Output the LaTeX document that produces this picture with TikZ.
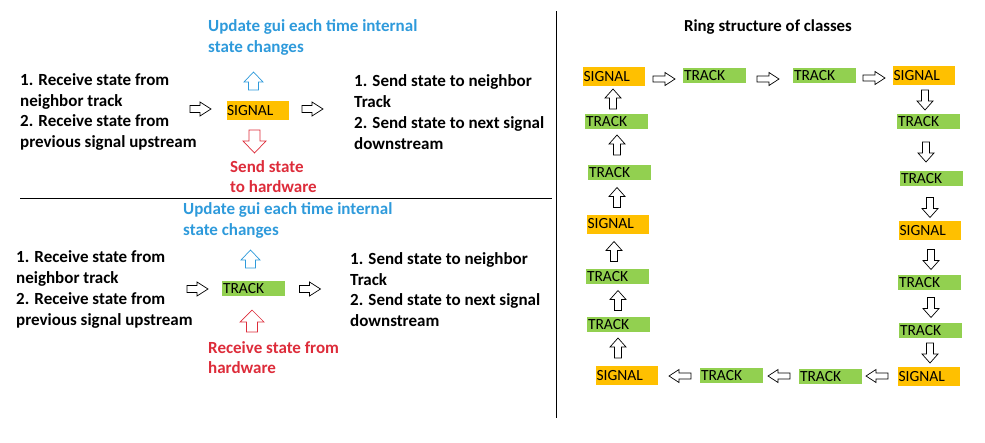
\documentclass[tikz,border=0pt]{standalone}
\usepackage{fontspec}
\setmainfont{Carlito}
\definecolor{sigorange}{HTML}{FFC000}
\definecolor{trkgreen}{HTML}{92D050}
\definecolor{guiblue}{HTML}{2E9ADB}
\definecolor{hwred}{HTML}{DD2C3A}
\tikzset{
  sigbox/.style={fill=sigorange, minimum width=62pt, minimum height=19pt, text width=61pt, inner xsep=0.5pt, inner ysep=0pt, align=left, font=\fontsize{15.5}{16}\selectfont},
  trkbox/.style={fill=trkgreen, minimum width=63pt, minimum height=15pt, text width=61pt, inner xsep=1pt, inner ysep=0pt, align=left, font=\fontsize{15.5}{16}\selectfont},
  btext/.style={anchor=west, align=left, inner sep=0pt, font=\bfseries\fontsize{17}{20.8}\selectfont},
  divider/.style={line width=0.8pt, draw=black},
  pics/barrow/.style n args={4}{code={
    \draw[line width=0.7pt, fill=white, line join=miter]
      (-#1/2,-#3/2) -- (#1/2-#4,-#3/2) -- (#1/2-#4,-#2/2) -- (#1/2,0)
      -- (#1/2-#4,#2/2) -- (#1/2-#4,#3/2) -- (-#1/2,#3/2) -- cycle;
  }},
}
\begin{document}
\begin{tikzpicture}[x=1pt,y=-1pt]
\useasboundingbox (0,0) rectangle (985,442);

% dividers
\coordinate (hl) at (20,198);
\coordinate (hr) at (552,198);
\coordinate (vt) at (556,11);
\coordinate (vb) at (556,418);
\draw[divider] (hl) -- (hr);
\draw[divider] (vt) -- (vb);

% ---------- top-left panel: SIGNAL ----------
\node[sigbox] (sig0) at (257.5,110.5) {SIGNAL};
\node[btext] (tlin) at (20,112) {1. Receive state from\\neighbor track\\2. Receive state from\\previous signal upstream};
\node[btext] (tlout) at (354,112) {1. Send state to neighbor\\Track\\2. Send state to next signal\\downstream};
\node[btext, text=guiblue] (tlgui) at (208,37.5) {Update gui each time internal\\state changes};
\node[btext, text=hwred] (tlhw) at (230,176.5) {Send state\\to hardware};
\pic (a1) at (200.5,109) {barrow={21}{14}{7}{11}};
\pic (a2) at (312.5,109) {barrow={21}{14}{7}{11}};
\pic[color=guiblue, rotate=90] (a3) at (253.5,81) {barrow={18}{19}{10}{10}};
\pic[color=hwred, rotate=-90] (a4) at (254.5,141.5) {barrow={23}{23}{11}{12}};

% ---------- bottom-left panel: TRACK ----------
\node[trkbox] (trk0) at (253.5,288.5) {TRACK};
\node[btext] (blin) at (16,289.5) {1. Receive state from\\neighbor track\\2. Receive state from\\previous signal upstream};
\node[btext] (blout) at (350,289.5) {1. Send state to neighbor\\Track\\2. Send state to next signal\\downstream};
\node[btext, text=guiblue] (blgui) at (183,220.5) {Update gui each time internal\\state changes};
\node[btext, text=hwred] (blhw) at (208,357.5) {Receive state from\\hardware};
\pic (b1) at (197.5,289) {barrow={21}{14}{7}{11}};
\pic (b2) at (310,289) {barrow={21}{14}{7}{11}};
\pic[color=guiblue, rotate=90] (b3) at (250.5,259) {barrow={18}{19}{10}{10}};
\pic[color=hwred, rotate=90] (b4) at (252,321) {barrow={22}{24}{11}{12}};

% ---------- right panel: ring ----------
\node[font=\bfseries\fontsize{16.8}{18}\selectfont, inner sep=0pt] (title) at (768,27) {Ring structure of classes};

% top row
\node[sigbox] (r1) at (614,76.5) {SIGNAL};
\node[trkbox] (r2) at (714.5,75.5) {TRACK};
\node[trkbox] (r3) at (824.5,75.5) {TRACK};
\node[sigbox] (r4) at (924,75.5) {SIGNAL};
% right column
\node[trkbox] (r5) at (928.5,121.5) {TRACK};
\node[trkbox] (r6) at (931.5,178.5) {TRACK};
\node[sigbox] (r7) at (930,230.5) {SIGNAL};
\node[trkbox] (r8) at (929.5,282.5) {TRACK};
\node[trkbox] (r9) at (930.5,330.5) {TRACK};
\node[sigbox] (r10) at (929,376.5) {SIGNAL};
% bottom row
\node[trkbox] (r11) at (830.5,376.5) {TRACK};
\node[trkbox] (r12) at (731.5,375.5) {TRACK};
\node[sigbox] (r13) at (627,375.5) {SIGNAL};
% left column
\node[trkbox] (r14) at (618.5,324.5) {TRACK};
\node[trkbox] (r15) at (617.5,276.5) {TRACK};
\node[sigbox] (r16) at (618,224) {SIGNAL};
\node[trkbox] (r17) at (619.5,172.5) {TRACK};
\node[trkbox] (r18) at (616.5,121.5) {TRACK};

% ring arrows
\pic (c1) at (664,79) {barrow={22}{13}{6}{10}};
\pic (c2) at (768,79) {barrow={22}{13}{6}{10}};
\pic (c3) at (874,78) {barrow={22}{13}{6}{10}};
\pic[rotate=-90] (c4) at (925,100) {barrow={20}{16}{7}{9}};
\pic[rotate=-90] (c5) at (926,152) {barrow={20}{16}{7}{9}};
\pic[rotate=-90] (c6) at (930,207.5) {barrow={20}{16}{7}{9}};
\pic[rotate=-90] (c7) at (931,259.5) {barrow={20}{16}{7}{9}};
\pic[rotate=-90] (c8) at (931,307.5) {barrow={20}{16}{7}{9}};
\pic[rotate=-90] (c9) at (930,353) {barrow={20}{16}{7}{9}};
\pic[rotate=180] (c10) at (877,376) {barrow={22}{13}{6}{10}};
\pic[rotate=180] (c11) at (779,376) {barrow={22}{13}{6}{10}};
\pic[rotate=180] (c12) at (680,376) {barrow={22}{13}{6}{10}};
\pic[rotate=90] (c13) at (618,348) {barrow={20}{16}{7}{9}};
\pic[rotate=90] (c14) at (618,300.5) {barrow={20}{16}{7}{9}};
\pic[rotate=90] (c15) at (614,251.5) {barrow={20}{16}{7}{9}};
\pic[rotate=90] (c16) at (617,197.5) {barrow={20}{16}{7}{9}};
\pic[rotate=90] (c17) at (617,145) {barrow={20}{16}{7}{9}};
\pic[rotate=90] (c18) at (613,99) {barrow={20}{16}{7}{9}};
\end{tikzpicture}
\end{document}
